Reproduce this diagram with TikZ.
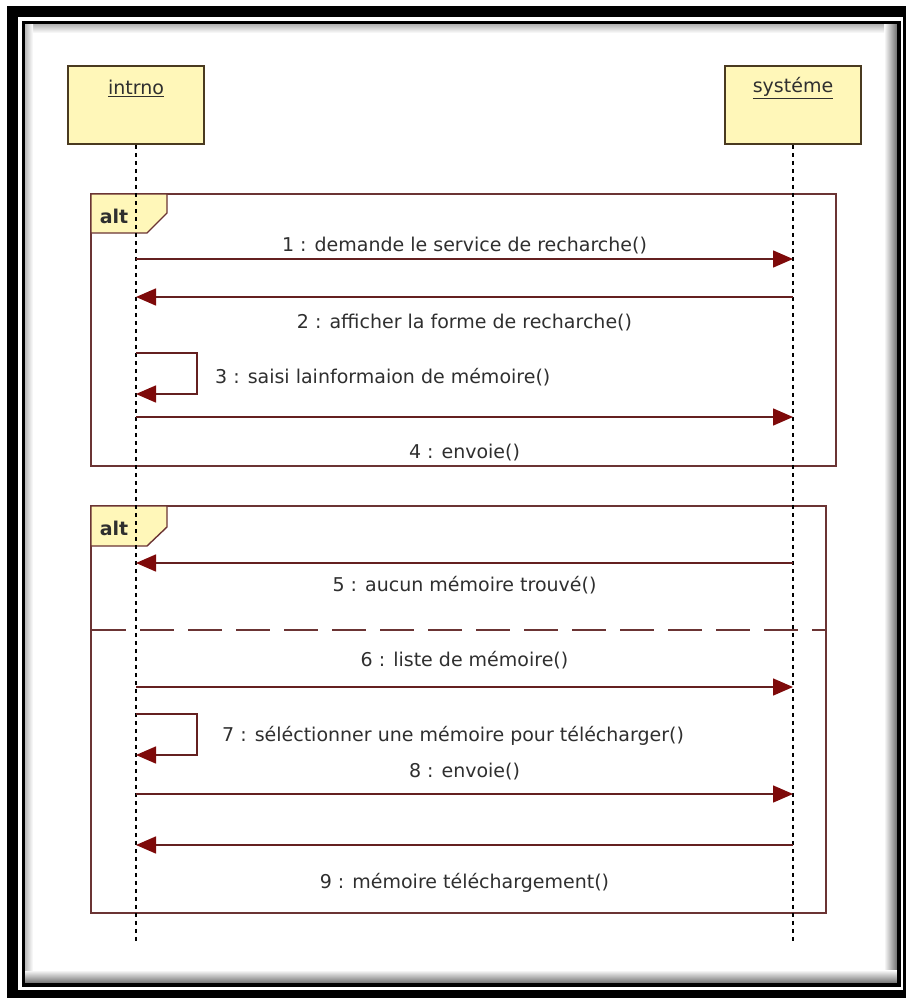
\documentclass[tikz,border=0pt]{standalone}
\usepackage{fontspec}
\setmainfont{DejaVu Sans}
\usetikzlibrary{arrows.meta,calc}
\definecolor{lifefill}{HTML}{FFF7B9}
\definecolor{boxline}{HTML}{4A3A20}
\definecolor{frameline}{HTML}{6B3434}
\definecolor{msgline}{HTML}{642020}
\definecolor{headfill}{HTML}{7E0A0A}
\definecolor{labeltext}{HTML}{2F2F2F}
\tikzstyle{lifehead} = [rectangle, draw=boxline, fill=lifefill, line width=1.6pt, minimum width=136pt, minimum height=78pt, inner sep=0pt]
\tikzstyle{headname} = [font=\fontsize{19}{22}\selectfont, text=labeltext, inner sep=0pt]
\tikzstyle{lifeline} = [line width=1.8pt, dash pattern=on 4pt off 4pt]
\tikzstyle{fragment} = [draw=frameline, line width=1.4pt]
\tikzstyle{altlabel} = [font=\bfseries\fontsize{19}{22}\selectfont, text=labeltext, inner sep=0pt]
\tikzstyle{message} = [draw=msgline, line width=1.5pt, -{Triangle[length=20pt,width=17pt,color=headfill]}]
\tikzstyle{msglabel} = [font=\fontsize{19}{22}\selectfont, text=labeltext, inner sep=0pt]

\begin{document}
\begin{tikzpicture}[x=1pt,y=-1pt]
    \useasboundingbox (0,0) rectangle (906,998);
    % double black border with inner shadow
    \fill[black] (7,6) rectangle (906,998);
    \fill[white] (18,17) rectangle (903,990);
    \shade[left color=white,right color=black!60] (884,24) rectangle (898,984);
    \shade[top color=white,bottom color=black!60] (24,970) rectangle (898,984);
    \shade[top color=black!30,bottom color=white] (24,24) rectangle (884,33);
    \shade[left color=black!30,right color=white] (24,24) rectangle (33,970);
    \draw[black,line width=3.5pt] (23.5,22.5) rectangle (899,985);

    % lifeline heads
    \node[lifehead] (intrno) at (136,105) {};
    \node[headname] (intrno-name) at ([yshift=-23pt]intrno.north) {\underline{intrno}};
    \node[lifehead] (systeme) at (793,105) {};
    \node[headname] (systeme-name) at ([yshift=-23pt]systeme.north) {\underline{systéme}};

    % combined fragments
    \draw[fragment] (91,194) rectangle (836,466);
    \filldraw[fragment,fill=lifefill] (91,194) -- (167,194) -- (167,213) -- (147,233) -- (91,233) -- cycle;
    \node[altlabel,anchor=base] (alt1) at (114,223) {alt};
    \draw[fragment] (91,506) rectangle (826,913);
    \filldraw[fragment,fill=lifefill] (91,506) -- (167,506) -- (167,527) -- (147,546) -- (91,546) -- cycle;
    \node[altlabel,anchor=base] (alt2) at (114,535) {alt};
    \draw[fragment,dash pattern=on 34pt off 14pt] (92,630) -- (826,630);

    % lifelines
    \coordinate (intrno-end) at (intrno.south |- 0,943);
    \coordinate (systeme-end) at (systeme.south |- 0,943);
    \draw[lifeline] (intrno.south) -- (intrno-end);
    \draw[lifeline] (systeme.south) -- (systeme-end);

    \foreach \n/\y in {1/259,2/297,3/353,4/417,5/563,6/687,7/714,8/794,9/845}{
        \coordinate (i\n) at (intrno.south |- 0,\y);
        \coordinate (s\n) at (systeme.south |- 0,\y);
    }
    \coordinate (i3b) at (intrno.south |- 0,394);
    \coordinate (i7b) at (intrno.south |- 0,755);

    % messages
    \draw[message] (i1) -- node[msglabel,yshift=13pt] (m1) {1 : demande le service de recharche()} (s1);
    \draw[message] (s2) -- node[msglabel,yshift=-26pt] (m2) {2 : afficher la forme de recharche()} (i2);
    \draw[message] (i3) -- ++(61,0) |- (i3b);
    \node[msglabel,anchor=west] (m3) at (215,377) {3 : saisi lainformaion de mémoire()};
    \draw[message] (i4) -- node[msglabel,yshift=-36pt] (m4) {4 : envoie()} (s4);
    \draw[message] (s5) -- node[msglabel,yshift=-22pt] (m5) {5 : aucun mémoire trouvé()} (i5);
    \draw[message] (i6) -- node[msglabel,yshift=27pt] (m6) {6 : liste de mémoire()} (s6);
    \draw[message] (i7) -- ++(61,0) |- (i7b);
    \node[msglabel,anchor=west] (m7) at (222,736) {7 : séléctionner une mémoire pour télécharger()};
    \draw[message] (i8) -- node[msglabel,yshift=22pt] (m8) {8 : envoie()} (s8);
    \draw[message] (s9) -- node[msglabel,yshift=-38pt] (m9) {9 : mémoire téléchargement()} (i9);
\end{tikzpicture}
\end{document}
